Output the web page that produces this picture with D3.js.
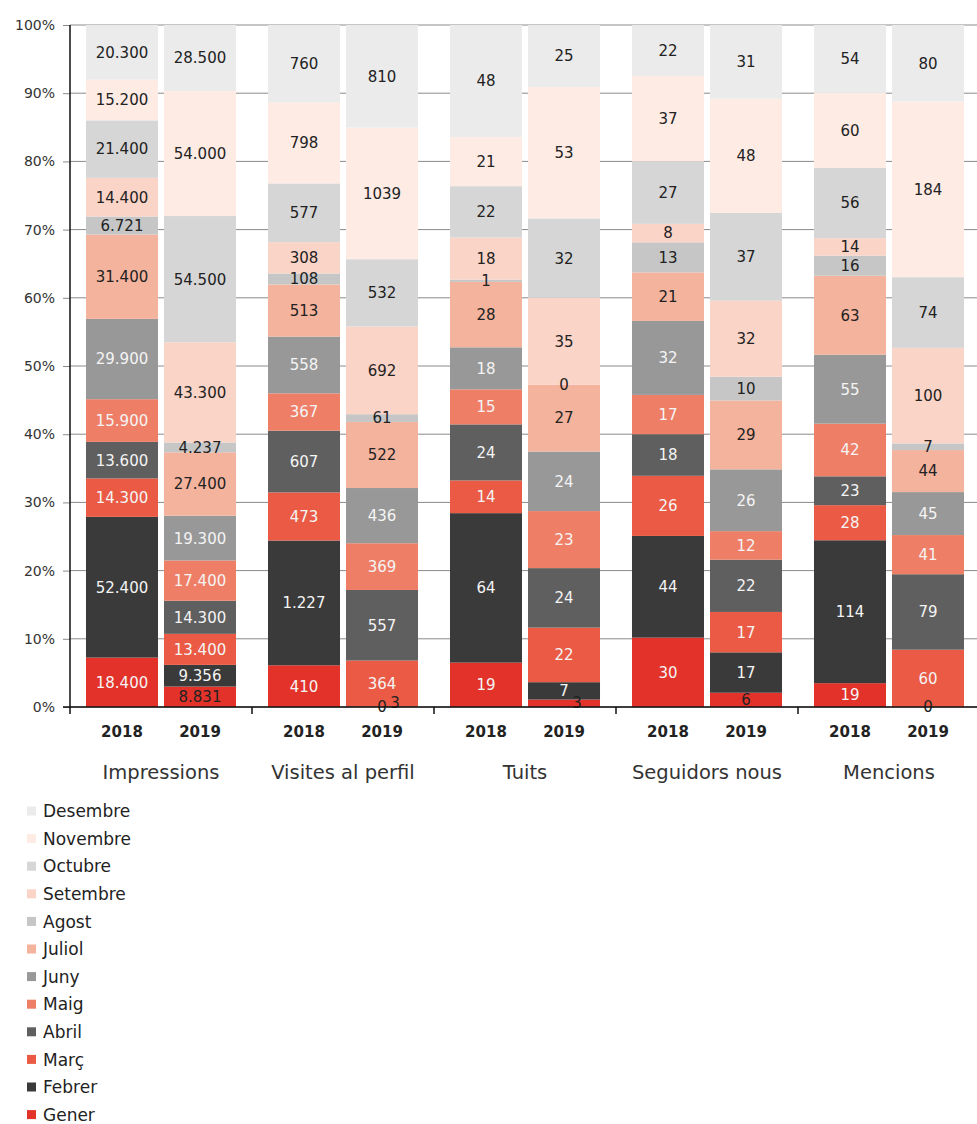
<!DOCTYPE html>
<html><head><meta charset="utf-8">
<script src="https://cdn.jsdelivr.net/npm/d3@7"></script>
<style>body{margin:0;background:#fff}svg{display:block}</style>
</head><body><svg id="c" width="977" height="1124"></svg>
<script>
// ---------- data ----------
const months = ["Gener","Febrer","Març","Abril","Maig","Juny","Juliol","Agost","Setembre","Octubre","Novembre","Desembre"];
const categories = ["Impressions","Visites al perfil","Tuits","Seguidors nous","Mencions"];
const years = ["2018","2019"];
const yTickValues = [0,0.1,0.2,0.3,0.4,0.5,0.6,0.7,0.8,0.9,1];

const impressions2018 = [18400,52400,14300,13600,15900,29900,31400,6721,14400,21400,15200,20300];
const impressions2019 = [8831,9356,13400,14300,17400,19300,27400,4237,43300,54500,54000,28500];
const visites2018 = [410,1227,473,607,367,558,513,108,308,577,798,760];
const visites2019 = [0,3,364,557,369,436,522,61,692,532,1039,810];
const tuits2018 = [19,64,14,24,15,18,28,1,18,22,21,48];
const tuits2019 = [3,7,22,24,23,24,27,0,35,32,53,25];
const seguidors2018 = [30,44,26,18,17,32,21,13,8,27,37,22];
const seguidors2019 = [6,17,17,22,12,26,29,10,32,37,48,31];
const mencions2018 = [19,114,28,23,42,55,63,16,14,56,60,54];
const mencions2019 = [0,null,60,79,41,45,44,7,100,74,184,80];

const monthColors = ["#E3322A","#3A3A3A","#EA5A44","#5F5F5F","#EF7E66","#989898","#F4B39D","#C6C6C6","#FAD4C7","#D6D6D6","#FDEBE4","#EBEBEB"];
const darkLabelMonths = ["Juliol","Agost","Setembre","Octubre","Novembre","Desembre"];

const series = {
  "Impressions": {"2018": impressions2018, "2019": impressions2019},
  "Visites al perfil": {"2018": visites2018, "2019": visites2019},
  "Tuits": {"2018": tuits2018, "2019": tuits2019},
  "Seguidors nous": {"2018": seguidors2018, "2019": seguidors2019},
  "Mencions": {"2018": mencions2018, "2019": mencions2019}
};
const ungroupedLabels = [["Visites al perfil","2019","Novembre"]];

// ---------- layout ----------
const svg = d3.select("#c");
const FONT = "DejaVu Sans";
const plotTop = 25, plotBottom = 707, plotLeft = 70, plotRight = 980;

const y = d3.scaleLinear().domain([0,1]).range([plotBottom, plotTop]);
const xGroup = d3.scaleBand().domain(categories).range([plotLeft, plotRight]).padding(0);
const xYear = d3.scaleBand().domain(years).range([0, xGroup.bandwidth()])
  .paddingInner(0.077).paddingOuter(0.205);
const color = d3.scaleOrdinal().domain(months).range(monthColors);

const loc = d3.formatLocale({decimal: ",", thousands: ".", grouping: [3], currency: ["", "€"]});
const fmtGroup = loc.format(",d");
const fmtPlain = d3.format("d");

// gridlines
svg.append("g").selectAll("line").data(yTickValues).join("line")
  .attr("x1", plotLeft).attr("x2", 977)
  .attr("y1", d => y(d)).attr("y2", d => y(d))
  .attr("stroke", "#8a8a8a").attr("stroke-width", 1);

// y axis
const yAxis = svg.append("g").attr("transform", `translate(${plotLeft},0)`)
  .call(d3.axisLeft(y).tickValues(yTickValues).tickSize(7).tickPadding(8)
    .tickFormat(d => Math.round(d*100) + "%"));
yAxis.select(".domain").remove();
yAxis.selectAll(".tick line").attr("stroke", "#8a8a8a");
yAxis.selectAll(".tick text").attr("font-family", FONT).attr("font-size", 14).attr("fill", "#333");

// bars
const bars = [];
categories.forEach(cat => {
  years.forEach(yr => {
    const vals = series[cat][yr];
    const total = d3.sum(vals, v => v || 0);
    let cum = 0;
    vals.forEach((v, i) => {
      const y0 = cum / total;
      cum += (v || 0);
      const y1 = cum / total;
      bars.push({cat, yr, month: months[i], value: v, y0, y1});
    });
  });
});

const gBars = svg.append("g");
gBars.selectAll("rect").data(bars.filter(d => d.value)).join("rect")
  .attr("x", d => xGroup(d.cat) + xYear(d.yr))
  .attr("width", xYear.bandwidth())
  .attr("y", d => y(d.y1))
  .attr("height", d => y(d.y0) - y(d.y1))
  .attr("fill", d => color(d.month));

// labels
const labels = bars.filter(d => d.value !== null).map(d => {
  const ungrouped = ungroupedLabels.some(u => u[0] === d.cat && u[1] === d.yr && u[2] === d.month);
  const txt = ungrouped ? fmtPlain(d.value) : fmtGroup(d.value);
  const cx = xGroup(d.cat) + xYear(d.yr) + xYear.bandwidth() / 2;
  const cy = (y(d.y0) + y(d.y1)) / 2;
  const h = y(d.y0) - y(d.y1);
  const dark = darkLabelMonths.includes(d.month) || (d.yr === "2019" && d.month === "Gener") || h < 6;
  return {txt, cx, cy, dark, value: d.value, cat: d.cat, yr: d.yr};
});
// overlap nudge for tiny stacked labels: the smaller non-zero one moves right
for (let i = 1; i < labels.length; i++) {
  const a = labels[i-1], b = labels[i];
  if (a.cat === b.cat && a.yr === b.yr && Math.abs(a.cy - b.cy) < 14) {
    let m;
    if (a.value === 0) m = b;
    else if (b.value === 0) m = a;
    else m = a.value <= b.value ? a : b;
    m.cx += 13;
    m.cy = Math.min(m.cy, plotBottom - 4);
  }
}
svg.append("g").selectAll("text").data(labels).join("text")
  .attr("x", d => d.cx).attr("y", d => d.cy).attr("dy", "0.36em")
  .attr("text-anchor", "middle")
  .attr("font-family", FONT).attr("font-size", 15)
  .attr("fill", d => d.dark ? "#222" : "#f4f4f4")
  .text(d => d.txt);

// axis lines
svg.append("line").attr("x1", plotLeft).attr("x2", plotLeft).attr("y1", plotTop).attr("y2", plotBottom + 7)
  .attr("stroke", "#111").attr("stroke-width", 1.5);
svg.append("line").attr("x1", plotLeft - 7).attr("x2", 977).attr("y1", plotBottom).attr("y2", plotBottom)
  .attr("stroke", "#111").attr("stroke-width", 1.5);
svg.append("g").selectAll("line").data(categories.slice(1)).join("line")
  .attr("x1", d => xGroup(d)).attr("x2", d => xGroup(d))
  .attr("y1", plotBottom).attr("y2", plotBottom + 7)
  .attr("stroke", "#111").attr("stroke-width", 1.5);

// year labels
const yl = [];
categories.forEach(cat => years.forEach(yr => yl.push({cat, yr})));
svg.append("g").selectAll("text").data(yl).join("text")
  .attr("x", d => xGroup(d.cat) + xYear(d.yr) + xYear.bandwidth() / 2)
  .attr("y", 737).attr("text-anchor", "middle")
  .attr("font-family", FONT).attr("font-size", 15).attr("font-weight", "bold")
  .attr("fill", "#222").text(d => d.yr);

// category labels
svg.append("g").selectAll("text").data(categories).join("text")
  .attr("x", d => xGroup(d) + xGroup.bandwidth() / 2)
  .attr("y", 779).attr("text-anchor", "middle")
  .attr("font-family", FONT).attr("font-size", 19.5)
  .attr("fill", "#333").text(d => d);

// legend
const legendMonths = months.slice().reverse();
const lg = svg.append("g").selectAll("g").data(legendMonths).join("g")
  .attr("transform", (d, i) => `translate(27, ${811 + i * 27.6})`);
lg.append("rect").attr("x", 0).attr("y", -4.5).attr("width", 9).attr("height", 9)
  .attr("fill", d => color(d));
lg.append("text").attr("x", 16).attr("dy", "0.36em")
  .attr("font-family", FONT).attr("font-size", 17).attr("fill", "#222").text(d => d);
</script>
</body></html>
